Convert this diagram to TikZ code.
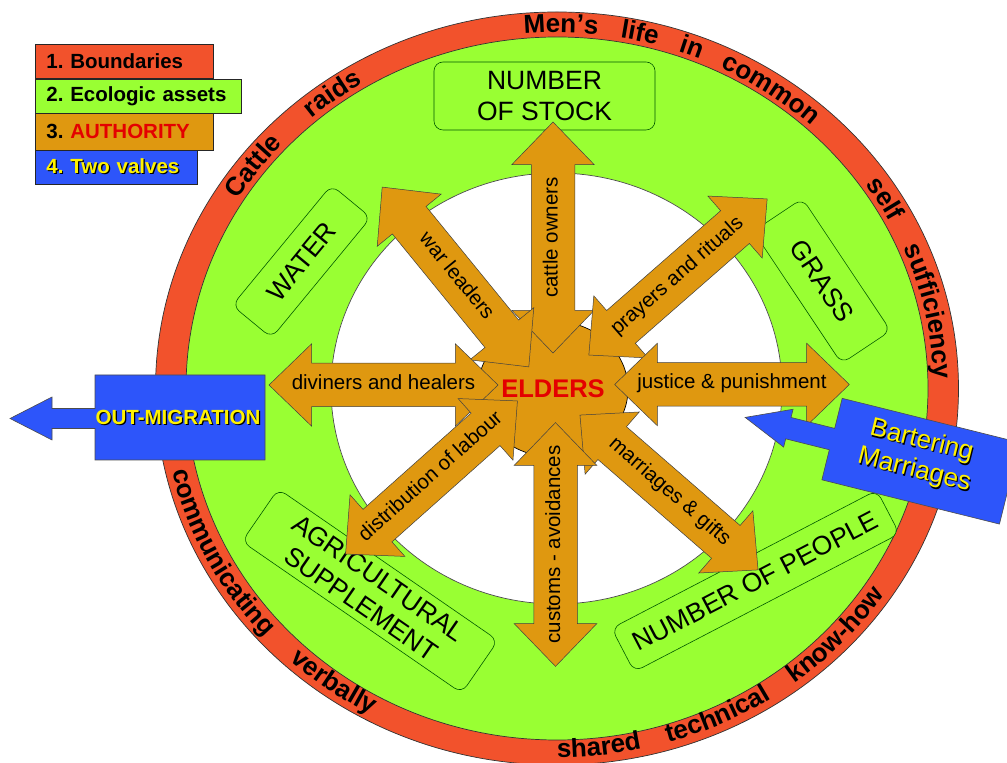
\documentclass[tikz,border=0pt]{standalone}
\usepackage{fontspec}
\setmainfont{Liberation Sans}
\usetikzlibrary{calc,shapes.arrows,shapes.geometric,decorations.text}

\definecolor{ringred}{RGB}{242,82,44}
\definecolor{assetgreen}{RGB}{153,255,51}
\definecolor{authority}{RGB}{223,152,16}
\definecolor{valveblue}{RGB}{45,85,250}
\definecolor{elderred}{RGB}{228,0,0}
\newcommand{\ringfont}{\fontsize{26}{26}\selectfont\bfseries}
\newcommand{\shadowed}[1]{\makebox[0pt][l]{\hspace{1.2pt}\raisebox{-1.2pt}{\color{black}#1}}#1}
\frenchspacing

\begin{document}
\begin{tikzpicture}[x=1pt,y=1pt]
    \tikzstyle{ring}=[draw=black!80, line width=0.7pt]
    \tikzstyle{assets}=[draw=black!65!green, line width=0.6pt, fill=assetgreen, rounded corners=9pt, inner sep=0pt, align=center, font=\fontsize{26.5}{31}\selectfont]
    \tikzstyle{ties}=[double arrow, draw=black!75, line width=0.5pt, fill=authority, double arrow head extend=19.5pt, double arrow tip angle=88, inner xsep=0pt, inner ysep=13pt, outer sep=0pt, text height=13pt, text depth=4pt, font=\fontsize{20.5}{24}\selectfont]
    \tikzstyle{valves}=[fill=valveblue, draw=black!70, line width=0.6pt]
    \tikzstyle{valvetext}=[text=yellow, align=center]
    \tikzstyle{keybox}=[draw=black!85, line width=0.8pt, anchor=west, minimum height=34pt, inner xsep=11pt, align=left, font=\fontsize{20.5}{24}\selectfont\bfseries]
    \tikzstyle{ringtext}=[decorate, decoration={text along path, text align={fit to path stretching spaces}}]

    \useasboundingbox (0,0) rectangle (1007,763);
    \coordinate (cen) at (557,374.5);

    % boundaries, assets and the inner field
    \draw[ring, fill=ringred] (cen) ellipse[x radius=401.5, y radius=376.5];
    \draw[ring, fill=assetgreen] (cen) ellipse[x radius=371, y radius=351.5];
    \draw[ring, draw=black!70, fill=white] (556.5,374.5) ellipse[x radius=225.5, y radius=215.5];

    % words round the ring
    \path[ringtext, decoration={text={|\ringfont|Cattle raids}}]
      ($(cen)+(148:377 and 356)$) arc[start angle=148, end angle=121, x radius=377, y radius=356];
    \path[ringtext, decoration={text={|\ringfont|Men’s life in common}}]
      ($(cen)+(95:377 and 356)$) arc[start angle=95, end angle=47.5, x radius=377, y radius=356];
    \path[ringtext, decoration={text={|\ringfont|self sufficiency}}]
      ($(cen)+(35:377 and 356)$) arc[start angle=35, end angle=1.5, x radius=377, y radius=356];
    \path[ringtext, decoration={text={|\ringfont|communicating verbally}}]
      ($(cen)+(193:395 and 369)$) arc[start angle=193, end angle=242, x radius=395, y radius=369];
    \path[ringtext, decoration={text={|\ringfont|shared technical know-how}}]
      ($(cen)+(270:395 and 369)$) arc[start angle=270, end angle=326, x radius=395, y radius=369];

    % ecologic assets
    \node[assets, minimum width=221pt, minimum height=68pt] (stock) at (544.5,667) {NUMBER\\OF STOCK};
    \node[assets, minimum width=159pt, minimum height=59pt, rotate=-56.3] (grass) at (822,482) {GRASS};
    \node[assets, minimum width=156pt, minimum height=51pt, rotate=50.5] (water) at (301.5,501.5) {WATER};
    \node[assets, minimum width=267pt, minimum height=64pt, rotate=-34.6] (agri) at (370,172) {AGRICULTURAL\\SUPPLEMENT};
    \node[assets, minimum width=299pt, minimum height=49pt, rotate=27.5] (people) at (755.5,182) {NUMBER OF PEOPLE};

    % authority
    \node[ellipse, draw=black, line width=0.7pt, fill=authority, minimum width=150pt, minimum height=136pt, inner sep=0pt] (elders) at (553,374) {};
    \node[ties, minimum height=231pt, rotate=90] (owners) at (553,525.5) {cattle owners};
    \node[ties, minimum height=232pt, rotate=-50.8] (war) at (455.5,486) {war leaders};
    \node[ties, minimum height=237pt, rotate=41.2] (prayers) at (678,486) {prayers and rituals};
    \node[ties, minimum height=219pt] (diviners) at (383.5,378) {diviners and healers};
    \node[ties, minimum height=219pt] (justice) at (732,378.5) {justice \& punishment};
    \node[ties, minimum height=218pt, rotate=41.7] (labour) at (431.5,285.5) {distribution of labour};
    \node[ties, minimum height=236pt, rotate=-41] (marriages) at (669,270.5) {marriages \& gifts};
    \node[ties, minimum height=219pt, rotate=90] (customs) at (555.5,218.5) {customs - avoidances};
    \node[text=elderred, font=\fontsize{25.5}{25.5}\selectfont\bfseries] (elderslabel) at (elders) {ELDERS};

    % two valves
    \draw[valves] (265,388) -- (95,388) -- (95,354.5) -- (52,354.5) -- (52,366) -- (10,344.5)
      -- (52,323) -- (52,334.5) -- (95,334.5) -- (95,303) -- (265,303) -- cycle;
    \node[valvetext, font=\fontsize{20.5}{24}\selectfont\bfseries] (outmig) at (178,345) {\shadowed{OUT-MIGRATION}};
    \begin{scope}[shift={(920.8,301.8)}, rotate=-14]
      \draw[valves] (-91.5,42) -- (91.5,42) -- (91.5,-42) -- (-91.5,-42) -- (-91.5,-11) -- (-136.5,-11)
        -- (-136.5,-19.5) -- (-181,0) -- (-136.5,19.5) -- (-136.5,11) -- (-91.5,11) -- cycle;
      \node[valvetext, rotate=-14, font=\fontsize{26}{30}\selectfont] (barter) at (-4,4) {\shadowed{Bartering}\\\shadowed{Marriages}};
    \end{scope}

    % legend
    \node[keybox, fill=ringred, text width=156pt] (k1) at (35,701.5) {1. Boundaries};
    \node[keybox, fill=assetgreen, text width=184pt] (k2) at (35,667) {2. Ecologic assets};
    \node[keybox, fill=authority, text width=156pt, minimum height=37pt] (k3) at (35,631.5) {3. \textcolor{elderred}{AUTHORITY}};
    \node[keybox, fill=valveblue, text width=140pt] (k4) at (35,596) {\textcolor{yellow}{\shadowed{4. Two valves}}};
\end{tikzpicture}
\end{document}
